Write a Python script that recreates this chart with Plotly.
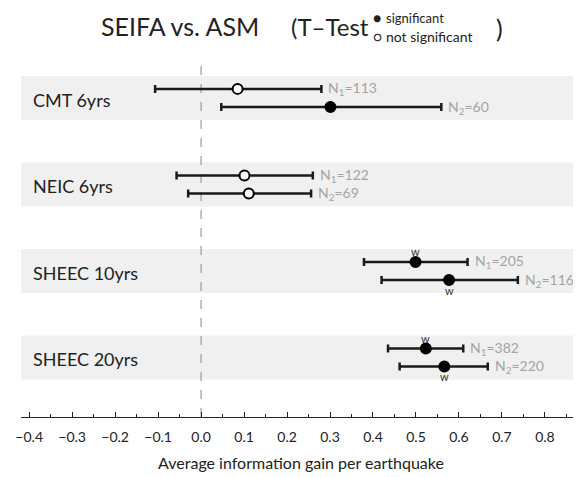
import plotly.graph_objects as go

categories = ["CMT 6yrs", "NEIC 6yrs", "SHEEC 10yrs", "SHEEC 20yrs"]

mean1 = [0.085, 0.101, 0.499, 0.523]
low1 = [-0.107, -0.057, 0.379, 0.435]
high1 = [0.280, 0.260, 0.620, 0.610]
n1 = [113, 122, 205, 382]
sig1 = [False, False, True, True]
w1 = [False, False, True, True]

mean2 = [0.301, 0.111, 0.577, 0.566]
low2 = [0.047, -0.030, 0.420, 0.462]
high2 = [0.559, 0.256, 0.737, 0.667]
n2 = [60, 69, 116, 220]
sig2 = [True, False, True, True]
w2 = [False, False, True, True]

FONT = "Lato"
OFF = 0.105

fig = go.Figure()

# grey bands
for i, _ in enumerate(categories):
    fig.add_shape(type="rect", xref="paper", yref="y", x0=0, x1=1,
                  y0=i - 0.254, y1=i + 0.254, fillcolor="#f0f0f0",
                  line_width=0, layer="below")

# dashed zero line
fig.add_shape(type="line", xref="x", yref="paper", x0=0, x1=0, y0=0, y1=1,
              line=dict(color="#9a9a9a", width=1.2, dash="dash"), layer="below")

def add_series(means, lows, highs, sigs, off):
    ys = [i + off for i in range(len(means))]
    fig.add_trace(go.Scatter(
        x=means, y=ys, mode="markers",
        marker=dict(size=10, color=["black" if s else "white" for s in sigs],
                    line=dict(color="black", width=2)),
        error_x=dict(type="data", symmetric=False,
                     array=[h - m for h, m in zip(highs, means)],
                     arrayminus=[m - l for m, l in zip(means, lows)],
                     color="#1a1a1a", thickness=2.5, width=4),
        showlegend=False, hoverinfo="skip"))

add_series(mean1, low1, high1, sig1, -OFF)
add_series(mean2, low2, high2, sig2, OFF)

ann = []
for i, c in enumerate(categories):
    ann.append(dict(text=c, xref="paper", yref="y", x=0.0173, y=i, yshift=-2,
                    xanchor="left", yanchor="middle", showarrow=False,
                    font=dict(family=FONT, size=18, color="#222222")))
    ann.append(dict(text=f"N<sub>1</sub>={n1[i]}", xref="x", yref="y", x=high1[i],
                    y=i - OFF, xanchor="left", yanchor="middle", xshift=5, showarrow=False,
                    font=dict(family=FONT, size=14, color="#a4a4a4")))
    ann.append(dict(text=f"N<sub>2</sub>={n2[i]}", xref="x", yref="y", x=high2[i],
                    y=i + OFF, xanchor="left", yanchor="middle", xshift=5, showarrow=False,
                    font=dict(family=FONT, size=14, color="#a4a4a4")))
    if w1[i]:
        ann.append(dict(text="w", xref="x", yref="y", x=mean1[i], y=i - OFF,
                        yshift=10, showarrow=False, xanchor="center", yanchor="middle",
                        font=dict(family=FONT, size=11, color="#333333")))
    if w2[i]:
        ann.append(dict(text="w", xref="x", yref="y", x=mean2[i], y=i + OFF,
                        yshift=-10, showarrow=False, xanchor="center", yanchor="middle",
                        font=dict(family=FONT, size=11, color="#333333")))

def pap_y(py):
    return (417 - py) / 359

def pap_x(px):
    return (px - 21) / 560

title_items = [
    ("SEIFA vs. ASM", 99, 26, 25, "left"),
    ("(T–Test", 371, 26, 24, "right"),
    ("●", 377, 18, 14, "center"),
    ("significant", 384, 18, 13, "left"),
    ("○", 377, 36, 14, "center"),
    ("not significant", 384, 36, 14, "left"),
    (")", 494, 28, 25, "left"),
]
for t, px, py, sz, xa in title_items:
    ann.append(dict(text=t, xref="paper", yref="paper", x=pap_x(px), y=pap_y(py),
                    xanchor=xa, yanchor="middle", showarrow=False,
                    font=dict(family=FONT, size=sz, color="#222222")))

# page body has an 8px default margin; compensate so plot area sits at the target pixels
fig.update_layout(
    width=573, height=469,
    margin=dict(l=13, r=0, t=50, b=60),
    plot_bgcolor="white", paper_bgcolor="white",
    annotations=ann,
    xaxis=dict(range=[-0.419, 0.884], showgrid=False, zeroline=False,
               showline=True, linecolor="#222222", linewidth=1,
               ticks="inside", ticklen=5, tickcolor="#222222", dtick=0.1, tick0=0,
               tickformat=".1f", ticklabelstandoff=7,
               minor=dict(ticks="inside", ticklen=3, dtick=0.05, tickcolor="#222222"),
               tickfont=dict(family=FONT, size=14, color="#222222"),
               title=dict(text="Average information gain per earthquake",
                          font=dict(family=FONT, size=16, color="#222222"), standoff=14)),
    yaxis=dict(range=[3.688, -0.462], visible=False, showgrid=False, zeroline=False),
)

fig.write_html("out.html")
